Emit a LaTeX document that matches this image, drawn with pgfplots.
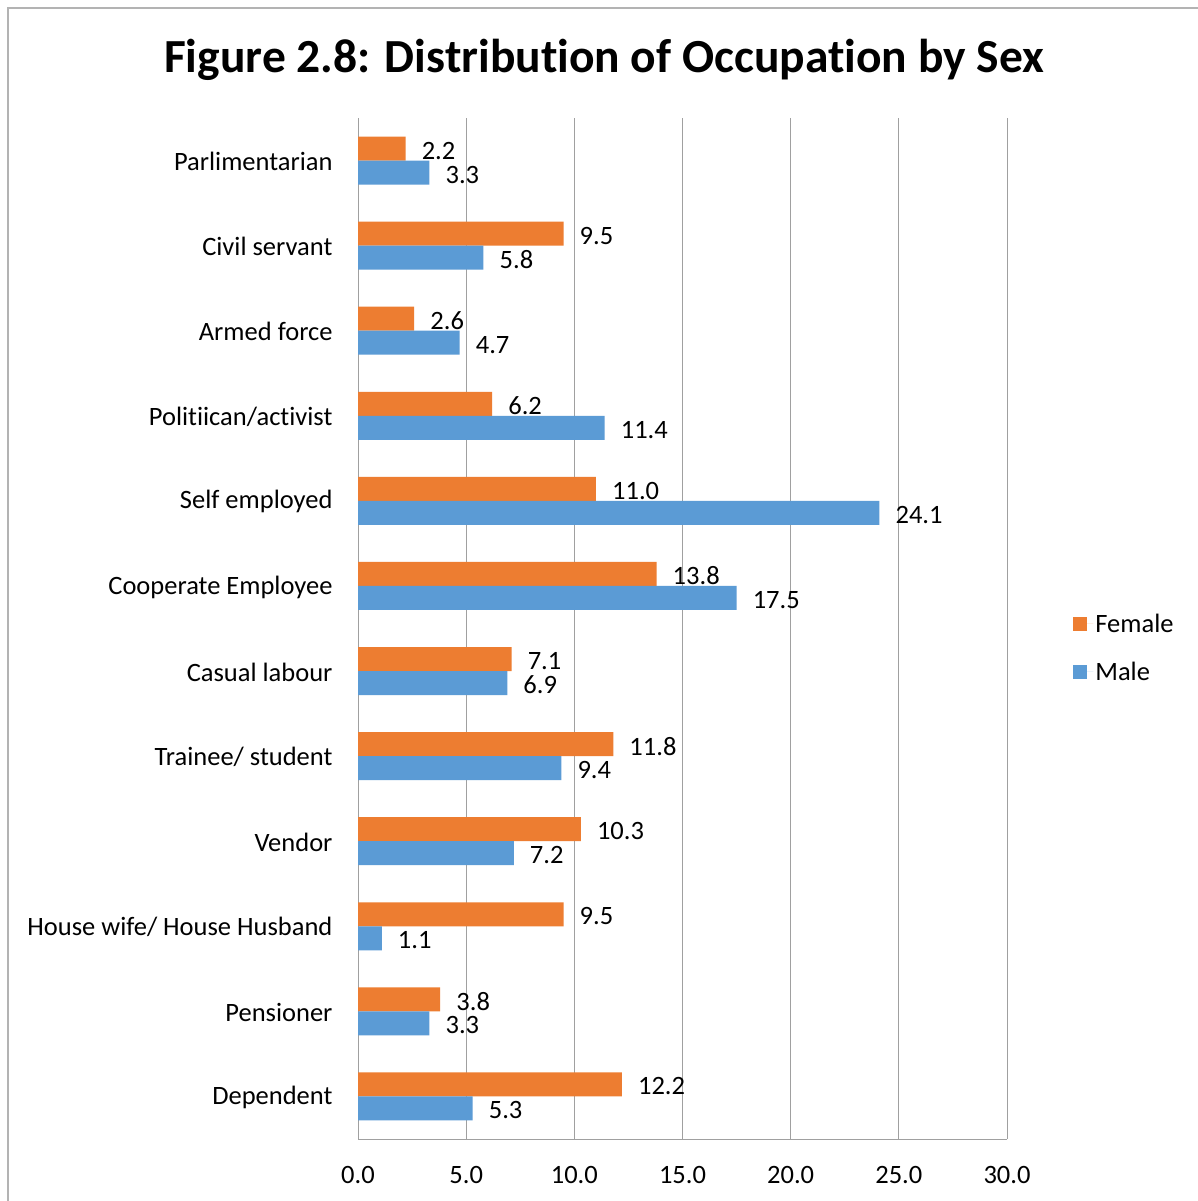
\documentclass[border=0pt]{standalone}
\usepackage{fontspec}
\setmainfont{Carlito}[Ligatures={NoCommon}]
\usepackage{pgfplots}
\pgfplotsset{compat=1.18}
\definecolor{fem}{HTML}{ED7D31}
\definecolor{mal}{HTML}{5B9BD5}
\definecolor{gridc}{HTML}{A0A0A0}
\begin{document}
\begin{tikzpicture}
\useasboundingbox (0,0) rectangle (1198bp,-1201bp);
\fill[white] (0,0) rectangle (1198bp,-1201bp);
\draw[color=gridc!80, line width=2bp] (8bp,-1201bp) -- (8bp,-8bp) -- (1198bp,-8bp);
\node[font=\fontsize{47.5bp}{56bp}\selectfont\bfseries] at (604bp,-60bp) {Figure 2.8: Distribution of Occupation by Sex};
\begin{axis}[
  at={(358bp,-1139bp)}, anchor=south west,
  scale only axis, width=649bp, height=1021bp,
  xbar, bar width=0.282,
  xmin=0, xmax=30, xtick={0,5,...,30},
  ymin=-0.5, ymax=11.5, y dir=reverse,
  ytick={0,...,11},
  yticklabels={Parlimentarian,Civil servant,Armed force,Politiican/activist,Self employed,Cooperate Employee,Casual labour,Trainee/ student,Vendor,House wife/ House Husband,Pensioner,Dependent},
  major tick length=0pt,
  axis line style={draw=gridc, line width=1bp},
  axis x line*=bottom, axis y line*=left,
  xmajorgrids, grid style={draw=gridc, line width=1bp},
  /pgf/number format/assume math mode=true,
  xticklabel={\pgfmathprintnumber[fixed,fixed zerofill,precision=1]{\tick}},
  tick label style={font=\fontsize{26.5bp}{30bp}\selectfont},
  xticklabel style={yshift=-24bp},
  yticklabel style={xshift=-22bp, yshift=-1bp},
  point meta=x,
  nodes near coords={\pgfmathprintnumber[fixed,fixed zerofill,precision=1]{\pgfplotspointmeta}},
  nodes near coords style={font=\fontsize{26.5bp}{30bp}\selectfont, anchor=west, inner sep=0pt, xshift=16bp, yshift=-2bp, /pgf/number format/assume math mode=true},
  legend style={at={(1.102,0.481)}, anchor=west, draw=none, fill=none, font=\fontsize{26.5bp}{30bp}\selectfont, row sep=24bp, inner sep=0pt},
  legend cell align=left,
  legend image code/.code={\path (0bp,0bp) -- (20bp,0bp); \fill[#1] (0bp,-7bp) rectangle (14bp,7bp);},
]
\addplot[fill=fem, draw=none, bar shift=-0.141] coordinates {
(2.2,0) (9.5,1) (2.6,2) (6.2,3) (11.0,4) (13.8,5) (7.1,6) (11.8,7) (10.3,8) (9.5,9) (3.8,10) (12.2,11)};
\addplot[fill=mal, draw=none, bar shift=0.141] coordinates {
(3.3,0) (5.8,1) (4.7,2) (11.4,3) (24.1,4) (17.5,5) (6.9,6) (9.4,7) (7.2,8) (1.1,9) (3.3,10) (5.3,11)};
\legend{Female,Male}
\end{axis}
\end{tikzpicture}
\end{document}
